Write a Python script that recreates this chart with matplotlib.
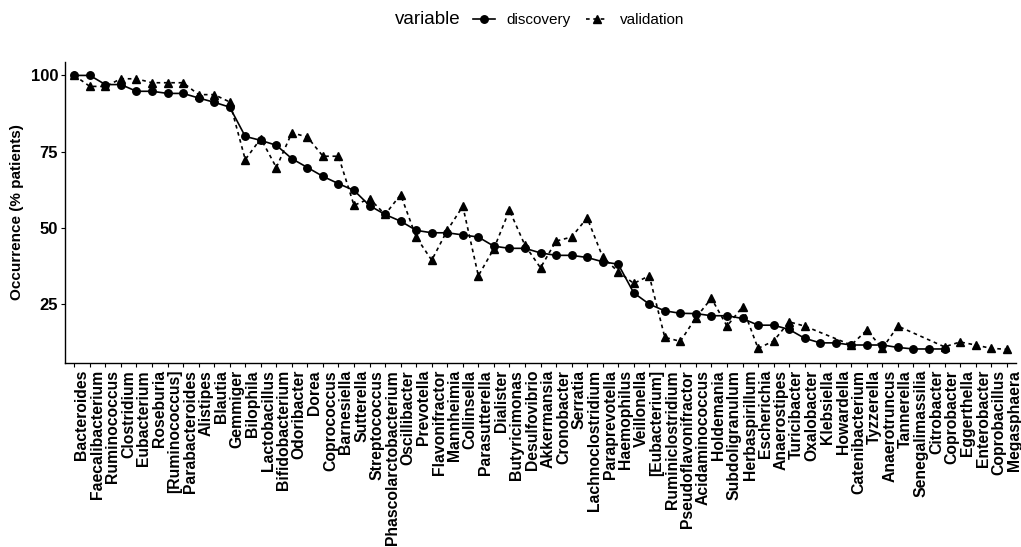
import numpy as np
import pandas as pd
import matplotlib
matplotlib.use("Agg")
import matplotlib.pyplot as plt
from matplotlib.lines import Line2D

plt.rcParams['font.family'] = ['Liberation Sans', 'DejaVu Sans']

# Genera, ordered as on the x axis
genera = [
    'Bacteroides', 'Faecalibacterium', 'Ruminococcus', 'Clostridium', 'Eubacterium',
    'Roseburia', '[Ruminococcus]', 'Parabacteroides', 'Alistipes', 'Blautia',
    'Gemmiger', 'Bilophila', 'Lactobacillus', 'Bifidobacterium', 'Odoribacter',
    'Dorea', 'Coprococcus', 'Barnesiella', 'Sutterella', 'Streptococcus',
    'Phascolarctobacterium', 'Oscillibacter', 'Prevotella', 'Flavonifractor', 'Mannheimia',
    'Collinsella', 'Parasutterella', 'Dialister', 'Butyricimonas', 'Desulfovibrio',
    'Akkermansia', 'Cronobacter', 'Serratia', 'Lachnoclostridium', 'Paraprevotella',
    'Haemophilus', 'Veillonella', '[Eubacterium]', 'Ruminiclostridium', 'Pseudoflavonifractor',
    'Acidaminococcus', 'Holdemania', 'Subdoligranulum', 'Herbaspirillum', 'Escherichia',
    'Anaerostipes', 'Turicibacter', 'Oxalobacter', 'Klebsiella', 'Howardella',
    'Catenibacterium', 'Tyzzerella', 'Anaerotruncus', 'Tannerella', 'Senegalimassilia',
    'Citrobacter', 'Coprobacter', 'Eggerthella', 'Enterobacter', 'Coprobacillus',
    'Megasphaera',
]

nan = np.nan
discovery = [
    100, 100, 97.0, 97.0, 94.8, 94.8, 94.1, 94.1, 92.6, 91.2,
    89.6, 80.0, 78.7, 77.1, 72.7, 69.8, 66.9, 64.5, 62.3, 57.3,
    54.4, 52.2, 49.2, 48.4, 48.4, 47.7, 47.0, 44.0, 43.3, 43.3,
    41.8, 41.0, 41.0, 40.3, 38.9, 38.1, 28.7, 25.0, 22.8, 22.0,
    21.9, 21.2, 21.2, 20.3, 18.1, 18.1, 16.7, 13.8, 12.3, 12.3,
    11.6, 11.6, 11.6, 10.8, 10.3, 10.3, 10.3, nan, nan, nan,
    nan,
]
validation = [
    100, 96.4, 96.4, 98.9, 98.9, 97.6, 97.6, 97.6, 93.7, 93.7,
    91.3, 72.4, 79.3, 69.8, 81.2, 79.8, 73.5, 73.5, 57.4, 59.6,
    54.4, 60.9, 47.0, 39.4, 49.2, 57.1, 34.3, 43.2, 55.8, 44.3,
    36.9, 45.7, 47.0, 53.3, 40.5, 35.6, 31.8, 34.3, 14.1, 12.8,
    20.6, 26.9, 17.8, 24.1, 10.5, 12.9, 19.2, 17.8, nan, nan,
    11.6, 16.5, 10.5, 17.8, nan, nan, 11.0, 12.6, 11.6, 10.5,
    10.2,
]

df = pd.DataFrame({'genus': genera, 'discovery': discovery, 'validation': validation})
df['pos'] = np.arange(len(df))

fig = plt.figure(figsize=(10.21, 5.47), dpi=100)
ax = fig.add_axes([65 / 1021, 1 - 363 / 547, (1016 - 65) / 1021, (363 - 61.7) / 547])

d = df.dropna(subset=['discovery'])
v = df.dropna(subset=['validation'])
ax.plot(d['pos'], d['discovery'], color='black', lw=1.2, marker='o', ms=5.4,
        linestyle='-')
ax.plot(v['pos'], v['validation'], color='black', lw=1.2, marker='^', ms=6.0,
        linestyle=(0, (2.2, 2.2)))

ax.set_xlim(-0.6, len(df) - 0.4)
ax.set_ylim(5.7, 104.5)
ax.set_yticks([25, 50, 75, 100])
ax.set_xticks(df['pos'])
ax.set_xticklabels(df['genus'], rotation=90, ha='left', va='top',
                   fontsize=11.3, fontweight='bold')
ax.tick_params(axis='both', direction='out', length=3, width=0.8,
               colors='black', pad=2)
ax.tick_params(axis='y', labelsize=12)
for lab in ax.get_yticklabels():
    lab.set_fontweight('bold')
for s in ['top', 'right']:
    ax.spines[s].set_visible(False)
for s in ['left', 'bottom']:
    ax.spines[s].set_linewidth(1.0)
ax.set_ylabel('Occurrence (% patients)', fontsize=11, fontweight='bold', labelpad=5)

# legend at top, title to the left
fig.text(395 / 1021, 1 - 20 / 547, 'variable', fontsize=13.5, va='center', ha='left')
handles = [
    Line2D([], [], color='black', lw=1.2, marker='o', ms=5.4, linestyle='-'),
    Line2D([], [], color='black', lw=1.2, marker='^', ms=6.0, linestyle=(0, (2.2, 2.2))),
]
fig.legend(handles, ['discovery', 'validation'], loc='center left',
           bbox_to_anchor=(473 / 1021, 1 - 20 / 547), ncol=2, frameon=False,
           fontsize=11, handlelength=1.45, handletextpad=0.75, columnspacing=1.0,
           borderpad=0, borderaxespad=0)

fig.savefig('out.png', dpi=100)
